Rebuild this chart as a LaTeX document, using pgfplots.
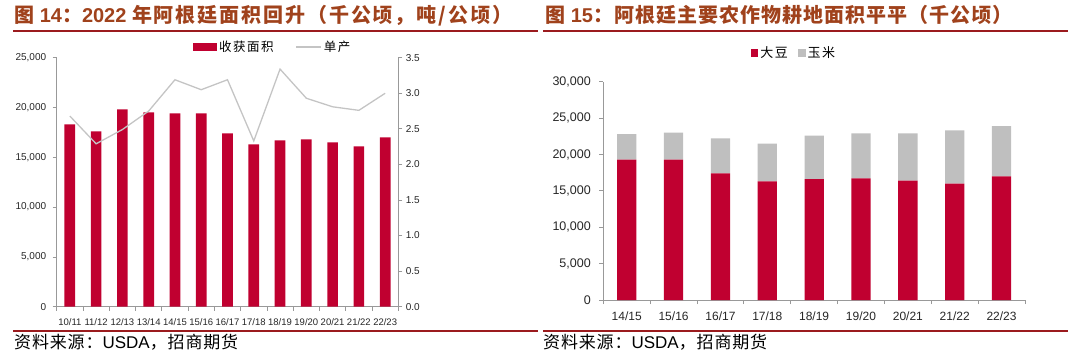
\documentclass[border=0pt]{standalone}
\usepackage{pgfplots}
\pgfplotsset{compat=1.18}
\usepackage{fontspec}
\setmainfont{Liberation Sans}
\newfontfamily\cjk{Noto Sans CJK SC}
\newfontfamily\cjkt[LetterSpace=5]{Noto Sans CJK SC}
\newfontfamily\cjktt[LetterSpace=9.5]{Noto Sans CJK SC}
\newfontfamily\cjkl[LetterSpace=12]{Noto Sans CJK SC}
\definecolor{barred}{HTML}{C00030}
\definecolor{greybar}{HTML}{BFBFBF}
\definecolor{linegrey}{HTML}{C4C4C4}
\definecolor{axisc}{HTML}{999999}
\definecolor{tickc}{HTML}{262626}
\definecolor{titlec}{HTML}{A0421C}
\definecolor{rulec}{HTML}{9B1B1E}
\pgfplotsset{
  common/.style={
    scale only axis,
    anchor=south west,
    axis line style={axisc, line width=0.8pt},
    tick style={axisc, line width=0.8pt},
    tick align=outside,
    major tick length=4pt,
    minor tick length=4pt,
    tick label style={text=tickc},
    /pgf/number format/.cd, 1000 sep={,}, assume math mode=true,
  },
}
\begin{document}
\begin{tikzpicture}
\useasboundingbox (0pt,0pt) rectangle (1080pt,362pt);
% titles
\node[anchor=base west, inner sep=0pt, text=titlec, font=\fontsize{20}{20}\selectfont\bfseries] at (14pt,339.5pt)
  {{\cjktt 图} 14{\cjktt ：}2022 {\cjktt 年阿根廷面积回升（千公顷，吨/公顷）}};
\node[anchor=base west, inner sep=0pt, text=titlec, font=\fontsize{20}{20}\selectfont\bfseries] at (545pt,339.5pt)
  {{\cjkt 图} 15{\cjkt ：阿根廷主要农作物耕地面积平平（千公顷）}};
\draw[rulec, line width=1.6pt] (13pt,331pt) -- (538pt,331pt);
\draw[rulec, line width=1.6pt] (543pt,331pt) -- (1068pt,331pt);
\draw[rulec, line width=1.6pt] (13pt,31pt) -- (538pt,31pt);
\draw[rulec, line width=1.6pt] (543pt,31pt) -- (1068pt,31pt);
% sources
\node[anchor=base west, inner sep=0pt, font=\fontsize{17}{17}\selectfont] at (14pt,14pt)
  {{\cjkt 资料来源：}USDA{\cjkt ，招商期货}};
\node[anchor=base west, inner sep=0pt, font=\fontsize{17}{17}\selectfont] at (543pt,14pt)
  {{\cjkt 资料来源：}USDA{\cjkt ，招商期货}};

% ---------- left chart ----------
\begin{axis}[common,
  at={(56.7pt,55.3pt)}, width=341.6pt, height=249pt,
  xmin=-0.5, xmax=12.5, ymin=0, ymax=25000,
  axis x line*=bottom, axis y line*=left,
  ytick={0,5000,10000,15000,20000,25000},
  xtick={0,...,12},
  xticklabels={10/11,11/12,12/13,13/14,14/15,15/16,16/17,17/18,18/19,19/20,20/21,21/22,22/23},
  major x tick style=transparent,
  minor xtick={-0.5,0.5,...,12.5},
  x tick label style={font=\fontsize{9.5}{10}\selectfont, yshift=-4pt},
  y tick label style={font=\fontsize{10}{10}\selectfont, xshift=-3pt},
  scaled y ticks=false,
  ybar, bar width=10.7pt,
  legend style={at={(0.632,1.043)}, anchor=center, draw=none, fill=none,
    legend columns=2, font=\cjkl\fontsize{12.5}{13}\selectfont,
    /tikz/every even column/.append style={column sep=20pt}},
]
\addplot[fill=barred, draw=none,
  legend image code/.code={\fill[barred] (0pt,-3.7pt) rectangle (24.5pt,3.7pt);}]
  coordinates {(0,18300) (1,17600) (2,19800) (3,19500) (4,19400) (5,19400) (6,17400)
               (7,16300) (8,16700) (9,16800) (10,16500) (11,16100) (12,17000)};
\addlegendentry{收获面积}
\addlegendimage{legend image code/.code={\draw[linegrey, line width=1.3pt] (0pt,0pt) -- (25pt,0pt);}}
\addlegendentry{单产}
\end{axis}
\begin{axis}[common,
  at={(56.7pt,55.3pt)}, width=341.6pt, height=249pt,
  xmin=-0.5, xmax=12.5, ymin=0, ymax=3.5,
  axis y line*=right, axis x line=none,
  ytick={0,0.5,1,1.5,2,2.5,3,3.5},
  yticklabel style={font=\fontsize{10}{10}\selectfont, /pgf/number format/.cd, fixed, fixed zerofill, precision=1},
]
\addplot[linegrey, line width=1.3pt, mark=none]
  coordinates {(0,2.68) (1,2.29) (2,2.49) (3,2.75) (4,3.19) (5,3.05) (6,3.19)
               (7,2.33) (8,3.34) (9,2.93) (10,2.81) (11,2.76) (12,3.0)};
\end{axis}

% ---------- right chart ----------
\begin{axis}[common,
  at={(603.3pt,62pt)}, width=421.7pt, height=218.3pt,
  xmin=-0.5, xmax=8.5, ymin=0, ymax=30000,
  axis x line*=bottom, axis y line*=left,
  ytick={0,5000,10000,15000,20000,25000,30000},
  xtick={0,...,8},
  xticklabels={14/15,15/16,16/17,17/18,18/19,19/20,20/21,21/22,22/23},
  major x tick style=transparent,
  minor xtick={-0.5,0.5,...,8.5},
  x tick label style={font=\fontsize{12}{12}\selectfont, yshift=-4pt},
  y tick label style={font=\fontsize{12.5}{12}\selectfont, xshift=-5pt},
  scaled y ticks=false,
  ybar stacked, bar width=19.3pt,
  legend style={at={(0.452,1.131)}, anchor=center, draw=none, fill=none,
    legend columns=2, font=\cjkl\fontsize{13}{13}\selectfont,
    /tikz/every even column/.append style={column sep=8pt}},
]
\addplot[fill=barred, draw=none,
  legend image code/.code={\fill[barred] (0pt,-3.8pt) rectangle (7.7pt,3.8pt);}]
  coordinates {(0,19300) (1,19300) (2,17400) (3,16300) (4,16600) (5,16700) (6,16400) (7,16000) (8,17000)};
\addlegendentry{大豆}
\addplot[fill=greybar, draw=none,
  legend image code/.code={\fill[greybar] (0pt,-3.8pt) rectangle (7.7pt,3.8pt);}]
  coordinates {(0,3500) (1,3700) (2,4800) (3,5200) (4,6000) (5,6200) (6,6500) (7,7300) (8,6900)};
\addlegendentry{玉米}
\end{axis}
\end{tikzpicture}
\end{document}
